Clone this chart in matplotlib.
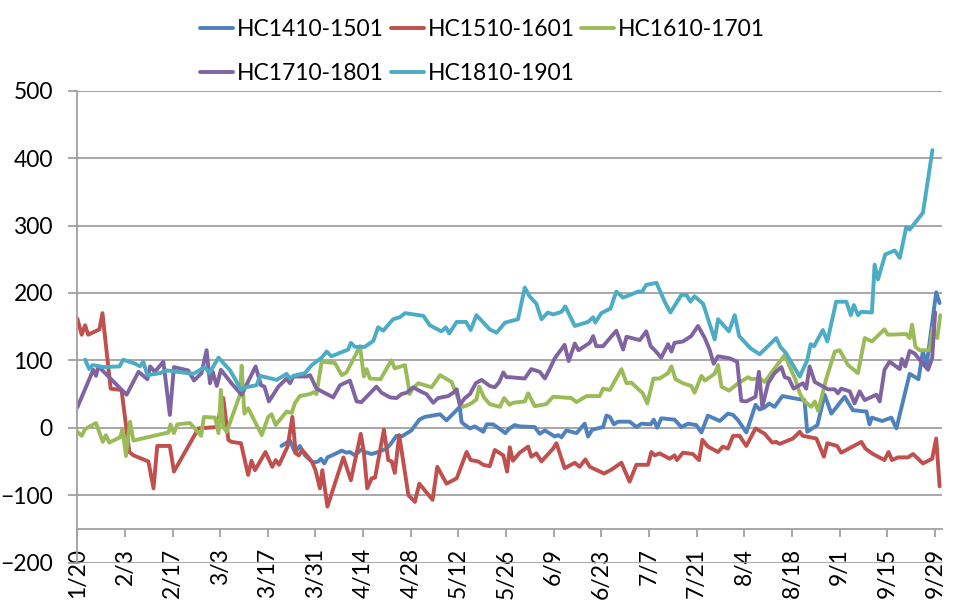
import numpy as np
import matplotlib
matplotlib.use("Agg")
import matplotlib.pyplot as plt

plt.rcParams['font.family'] = ['Lato', 'DejaVu Sans']

# day offsets from 1/20
hc1410_days = [60, 62.5, 64, 65.4, 66.9, 69.3, 70.8, 71.6, 72.6, 73.5, 75.7, 77.7, 79.1, 80.1, 81.6, 83.5,
               84.5, 86.5, 88.4, 90.9, 92.1, 93.8, 95.3, 98.2, 100.5, 102.1, 106.6, 108.5, 109.5, 112.4, 112.9,
               113.4, 115.4, 116.8, 119.3, 120.3, 122.2, 124.2, 125.8, 126.8, 128.5, 130, 134.4, 135.9, 137.4,
               140.3, 141.3, 142.3, 143.7, 146.7, 149.1, 150.1, 151.3, 154.5, 155.5, 156.5, 157.7, 158.9, 162.3,
               164.3, 165.8, 168.5, 169.4, 170.4, 171.6, 175.5, 177.5, 179.5, 181.9, 183.4, 185.3, 188.8, 191.2,
               192.7, 194.2, 196.6, 199.3, 200.5, 202, 203.3, 204.9, 207.2, 210.3, 213.7, 214.5, 217.5, 219.6,
               221.6, 225.5, 227.9, 231.9, 232.8, 233.5, 236.5, 239.2, 240.7, 244.6, 247.2, 248.5, 249.5, 252.4,
               253.4]
hc1410_vals = [-27, -19, -37, -27, -41, -52, -50, -46, -53, -44, -39, -34, -37, -36, -41, -32,
               -36, -39, -36, -31, -24, -12, -13, -4, 12, 16, 20, 11, 16, 31, 9,
               6, -1, 2, -6, 5, 5, -2, -8, -2, 4, 2, 1, -9, -4,
               -13, -11, -14, -4, -8, 6, -13, -3, 1, 18, 16, 5, 9, 9,
               1, 6, 5, 12, 0, 14, 12, 1, 6, 4, -7, 18, 10, 21,
               19, 11, -7, 34, 27, 30, 36, 31, 47, 44, 41, -6, 4, 49,
               21, 46, 26, 24, 5, 15, 10, 15, -1, 80, 72, 114, 90, 201,
               185]

hc1510_days = [0, 1.3, 2.3, 3.2, 6.5, 7.4, 9.8, 13, 15.3, 16.5, 20.9, 22.4, 23.5, 27.2, 28.4, 35.6, 40.9,
               42.9, 44.4, 45.3, 48.1, 50.2, 51.2, 52.2, 55.3, 57.3, 58.3, 59.3, 61.8, 63.2, 64.2, 65.1, 66.1,
               68.9, 70, 71.3, 72, 73.5, 78.2, 80.4, 83.3, 84.2, 85.2, 86.5, 87.5, 90.1, 91.4, 92.4, 93.3, 94.6,
               97.3, 99.2, 100.5, 104.4, 105.8, 108.5, 111.5, 114.4, 115.6, 117.8, 119.3, 121.2, 122.7, 125.2,
               126.3, 127.1, 128, 130, 132.5, 133.4, 134.9, 136.4, 139.8, 140.8, 143.2, 146.2, 147.6, 149.3,
               150.6, 154.8, 157, 159.9, 162.3, 164.3, 167.7, 168.7, 169.7, 171.1, 174.1, 175.5, 176.2, 178,
               180.9, 182.7, 183.7, 185.3, 188.3, 189.7, 191.2, 192.7, 194.6, 196.6, 199.3, 202, 204.2, 205.4,
               206.4, 208.8, 210.3, 212.3, 213.2, 217.2, 219.4, 220.4, 223.3, 224.5, 230.4, 231.6, 233.8, 237.2,
               238.4, 239.4, 241.2, 244.1, 245.6, 248.5, 251.2, 252.4, 253.4]
hc1510_vals = [162, 138, 152, 138, 146, 170, 58, 56, -36, -41, -50, -90, -27, -27, -65, -1, 1,
               44, -18, -21, -23, -70, -49, -63, -36, -58, -48, -55, -28, 16, -38, -41, -33,
               -50, -63, -90, -63, -117, -44, -78, -9, -36, -90, -75, -74, -3, -48, -50, -67, -11,
               -100, -110, -83, -107, -58, -83, -75, -36, -48, -50, -55, -57, -33, -41,
               -65, -29, -49, -37, -28, -43, -38, -50, -31, -23, -60, -52, -58, -47,
               -58, -68, -62, -52, -80, -55, -55, -36, -41, -38, -46, -41, -48, -37,
               -39, -48, -18, -28, -36, -28, -31, -12, -12, -27, -1, -9, -22, -21,
               -24, -19, -16, -6, -12, -16, -43, -23, -27, -37, -21, -31, -39, -48,
               -36, -48, -44, -44, -39, -53, -46, -16, -87]

hc1610_days = [0, 1.3, 2.3, 5.5, 7.5, 8.4, 9.4, 12.6, 13.3, 14.3, 15.5, 16.5, 26.8, 27.4, 28.4, 29.4, 33.1,
               36.4, 37.2, 40.5, 41.5, 42.2, 42.9, 43.9, 47.8, 48.3, 49.1, 50.2, 54.2, 56.1, 57.1, 58.3, 61.5,
               63, 64, 65.4, 68.4, 69.6, 70.3, 71.8, 75.7, 77.7, 79.1, 83.1, 84.2, 85, 86, 89.1, 92.3, 93.3,
               96.3, 97.7, 98.5, 100.2, 104.1, 106.6, 110, 112.4, 113.4, 115.4, 117.3, 118.1, 119.5, 121.2,
               124.2, 125.4, 127.1, 128, 131.5, 132.5, 134.4, 137.8, 139.8, 145.2, 146.7, 149.6, 153.5, 154.5,
               156.5, 159.9, 161.4, 162.8, 166.2, 167.5, 169.3, 171.1, 173.6, 174.6, 175.8, 178, 180.4, 181.4,
               183.4, 184.4, 187.3, 188.3, 189.3, 191.5, 194.2, 197.1, 198.1, 200.5, 202, 204.9, 207.9, 209.3,
               211, 212.3, 213.7, 215.7, 216.7, 217.7, 220.1, 222.6, 224, 226.5, 229.4, 231.4, 233.5, 237.2,
               238.2, 243.6, 244.6, 245.3, 246.3, 247.5, 250.5, 251.4, 252.7, 253.6]
hc1610_vals = [-6, -12, -2, 7, -21, -11, -22, -14, -2, -42, 9, -19, -7, 5, -8, 5, 7,
               -12, 16, 15, -8, 56, 1, -6, 49, 92, 21, 29, -11, 16, 20, 4, 24,
               22, 37, 47, 50, 53, 50, 98, 96, 78, 82, 121, 76, 87, 73, 72, 100, 88,
               93, 50, 58, 66, 60, 78, 68, 37, 31, 35, 42, 61, 45, 35,
               31, 44, 34, 37, 39, 51, 32, 35, 46, 44, 38, 47, 47, 58,
               56, 87, 66, 67, 51, 36, 73, 73, 81, 91, 72, 66, 62, 52,
               77, 70, 80, 93, 61, 55, 66, 75, 72, 73, 68, 88, 108, 91,
               72, 51, 39, 31, 39, 25, 73, 113, 115, 93, 81, 133, 128, 146,
               138, 139, 133, 153, 120, 115, 115, 148, 133, 167]

hc1710_days = [0, 4.7, 5.5, 6.2, 14.5, 18, 20.6, 21.4, 22.8, 25.3, 27.2, 28.4, 32.6, 34.3, 36.5, 38, 39,
               39.8, 41, 42.2, 45.3, 48.3, 52.4, 54, 55, 56.3, 59.1, 61.5, 62.5, 63.5, 67.4, 68.4, 70.3, 75.2,
               77.2, 80.1, 82.1, 83.5, 87.9, 89.4, 91.9, 93.8, 95.3, 96.8, 98.7, 101.2, 102.6, 104.6, 106, 109,
               110.5, 111.5, 112.4, 113.9, 115.4, 117.1, 118.8, 121.2, 122.7, 124, 125.2, 126.1, 127.1, 131.5,
               133.4, 135.9, 137.4, 138.8, 140.3, 143.2, 144.4, 146.2, 147.3, 150.6, 151.6, 152.5, 154.5, 158.4,
               160.4, 161.4, 165.3, 167.2, 168.5, 169.7, 171.6, 173.6, 174.6, 175.5, 178, 180.4, 182.4, 184.4,
               185.8, 187, 188.3, 191.7, 193.9, 195.1, 196.6, 199.3, 200.3, 201.3, 203, 204.9, 206.9, 207.9,
               209.1, 210.5, 213.2, 214.2, 215.2, 216.7, 220.6, 222.6, 223.5, 224.5, 227, 228.4, 229.9, 231.4,
               234.8, 235.8, 237.2, 238.7, 241.7, 242.3, 243.3, 244.6, 246.1, 247.5, 250, 251.2, 252.1]
hc1710_vals = [30, 86, 77, 91, 49, 83, 72, 91, 83, 98, 19, 90, 85, 70, 81, 115, 66,
               83, 62, 86, 66, 49, 91, 63, 61, 39, 61, 73, 66, 76, 76, 78, 58, 45,
               63, 70, 39, 38, 61, 52, 45, 44, 50, 52, 60, 53, 50, 37, 44, 47,
               52, 57, 34, 44, 50, 66, 71, 62, 60, 68, 82, 75, 75, 73,
               87, 83, 73, 87, 103, 123, 99, 125, 115, 126, 136, 121, 121, 144,
               116, 135, 130, 143, 121, 115, 104, 124, 113, 126, 128, 136, 151, 133,
               116, 95, 106, 103, 98, 40, 39, 46, 83, 31, 66, 81, 90, 75,
               73, 58, 66, 58, 91, 68, 57, 57, 51, 58, 54, 36, 54, 41,
               49, 39, 86, 98, 87, 102, 91, 114, 110, 101, 86, 103, 171]

hc1810_days = [2.3, 3.5, 4.5, 7.7, 12.4, 13.5, 17, 18.4, 19.4, 20.6, 24.3, 26.3, 34.1, 37.5, 38.8, 41.5,
               44.9, 46.3, 48.1, 49.3, 52.7, 53.7, 58.6, 61.5, 62.5, 63.5, 66.9, 68.9, 71.8, 73.3, 74.7, 79.6,
               80.4, 81.6, 84.5, 87, 88.4, 89.9, 92.8, 94.8, 96.3, 101.7, 103.6, 107, 108.3, 109.3, 111.5,
               114.2, 115.6, 117.3, 121.2, 123.2, 125.7, 129.5, 131.5, 132.9, 134.9, 136.4, 138.3, 139.8, 142.3,
               143.4, 146.2, 150.1, 151.6, 152.2, 154, 156.7, 158.4, 160.4, 164.8, 166, 167.2, 170.2, 172.6,
               174.3, 177.5, 179, 180.2, 181.4, 183.9, 187.3, 188.3, 191.5, 193.2, 194.5, 197.8, 200.5, 205.4,
               206.6, 208.2, 212.3, 214.5, 215.5, 216.5, 219.1, 220.4, 223, 226, 227.3, 228.2, 229.4, 230.4,
               233.5, 234.3, 235.3, 237.4, 240.2, 241.7, 243.6, 244.6, 248.5, 251.3]
hc1810_vals = [101, 87, 93, 90, 91, 101, 95, 91, 98, 78, 81, 85, 80, 90, 81, 104,
               85, 73, 56, 60, 63, 77, 71, 80, 73, 77, 81, 93, 104, 113, 106, 116,
               126, 120, 120, 129, 149, 144, 161, 164, 170, 166, 152, 143, 149, 140, 157,
               157, 145, 167, 146, 141, 156, 161, 208, 195, 184, 161, 171, 168, 172,
               180, 151, 157, 164, 156, 170, 177, 202, 193, 202, 202, 212, 215, 187,
               171, 197, 197, 187, 195, 184, 131, 161, 143, 167, 136, 118, 109, 133,
               120, 111, 76, 100, 124, 121, 145, 128, 187, 187, 167, 182, 167, 172,
               171, 242, 220, 257, 263, 252, 298, 294, 319, 412]

tick_labels = ['1/20', '2/3', '2/17', '3/3', '3/17', '3/31', '4/14', '4/28', '5/12', '5/26',
               '6/9', '6/23', '7/7', '7/21', '8/4', '8/18', '9/1', '9/15', '9/29']

series = [
    ('HC1410-1501', hc1410_days, hc1410_vals, '#4F81BD'),
    ('HC1510-1601', hc1510_days, hc1510_vals, '#C0504D'),
    ('HC1610-1701', hc1610_days, hc1610_vals, '#9BBB59'),
    ('HC1710-1801', hc1710_days, hc1710_vals, '#8064A2'),
    ('HC1810-1901', hc1810_days, hc1810_vals, '#4BACC6'),
]

fig = plt.figure(figsize=(9.66, 6.05), dpi=100)
ax = fig.add_axes([0.080, 0.0702, 0.8948, 0.7798])

lines = {}
for name, days, vals, color in series:
    l, = ax.plot(days, vals, color=color, lw=2.8, solid_joinstyle='round', solid_capstyle='round', label=name)
    lines[name] = l

grid_c = '#A0A0A0'
ax.set_xlim(0, 254)
ax.set_ylim(-200, 500)
ax.set_yticks(np.arange(-200, 501, 100))
ax.set_xticks(np.arange(0, 253, 14))
ax.set_xticklabels(tick_labels)
ax.yaxis.grid(True, color=grid_c, lw=1.3)
ax.set_axisbelow(True)

for s in ['top', 'right']:
    ax.spines[s].set_visible(False)
ax.spines['left'].set_color(grid_c)
ax.spines['left'].set_linewidth(1.3)
ax.spines['bottom'].set_position(('data', -150))
ax.spines['bottom'].set_color(grid_c)
ax.spines['bottom'].set_linewidth(1.3)

ax.tick_params(axis='y', length=6.5, width=1.3, color=grid_c, pad=11, labelsize=16.5)
ax.tick_params(axis='x', length=6, width=1.3, color=grid_c, pad=8, labelsize=16.5, labelrotation=90)

order = ['HC1410-1501', 'HC1710-1801', 'HC1510-1601', 'HC1810-1901', 'HC1610-1701']
fig.legend([lines[n] for n in order], order, ncol=3, loc='upper left',
           bbox_to_anchor=(200 / 966, 1 - 19 / 605), frameon=False, fontsize=16.5,
           handlelength=1.44, handletextpad=0.17, columnspacing=0.3, labelspacing=1.0,
           borderpad=0, borderaxespad=0)

fig.savefig('out.png', dpi=100)
